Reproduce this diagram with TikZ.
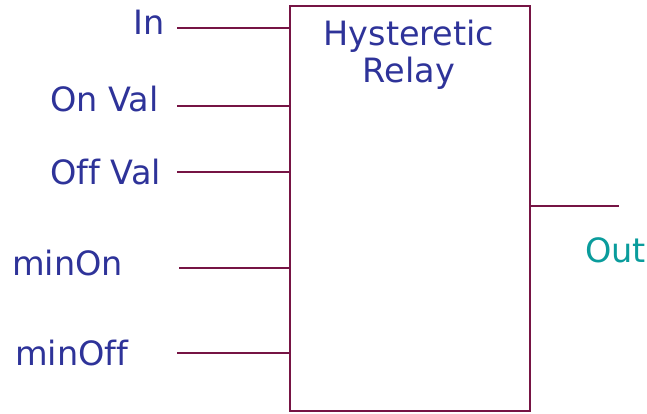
\documentclass[tikz,border=0pt]{standalone}
\usepackage{fontspec}
\setmainfont[Ligatures=NoCommon]{DejaVu Sans}
\definecolor{wire}{HTML}{761444}
\definecolor{labelblue}{HTML}{2E3399}
\definecolor{outteal}{HTML}{0A9C9C}
\begin{document}
\begin{tikzpicture}[x=1pt,y=-1pt,
  wireline/.style={draw=wire,line width=2.3pt},
  lbl/.style={text=labelblue,inner sep=0pt,font=\fontsize{33.5}{38}\selectfont},
  outlbl/.style={text=outteal,inner sep=0pt,font=\fontsize{33.5}{38}\selectfont},
  block/.style={draw=wire,line width=2.3pt,minimum width=240pt,minimum height=405.5pt,inner sep=0pt,anchor=north west}]
\useasboundingbox (0,0) rectangle (647,413);
% relay block
\node[block] (relay) at (289,4.5) {};
\node[lbl,anchor=base] (title1) at (409,45) {Hysteretic};
\node[lbl,anchor=base] (title2) at (409,82) {Relay};
% input wire ends
\coordinate (win) at (177,28);
\coordinate (won) at (177,106);
\coordinate (woff) at (177,172);
\coordinate (wmon) at (179,268);
\coordinate (wmoff) at (177,353);
\coordinate (wout) at (619,206);
\draw[wireline] (win) -- (win -| relay.west);
\draw[wireline] (won) -- (won -| relay.west);
\draw[wireline] (woff) -- (woff -| relay.west);
\draw[wireline] (wmon) -- (wmon -| relay.west);
\draw[wireline] (wmoff) -- (wmoff -| relay.west);
\draw[wireline] (wout -| relay.east) -- (wout);
% labels
\node[lbl,anchor=base east] (lin) at (165,34) {In};
\node[lbl,anchor=base west] (lon) at (50,111) {On Val};
\node[lbl,anchor=base west] (loff) at (50,184) {Off Val};
\node[lbl,anchor=base west] (lmon) at (12,275) {minOn};
\node[lbl,anchor=base west] (lmoff) at (15,365) {minOff};
\node[outlbl,anchor=base west] (lout) at (585,262) {Out};
\end{tikzpicture}
\end{document}
